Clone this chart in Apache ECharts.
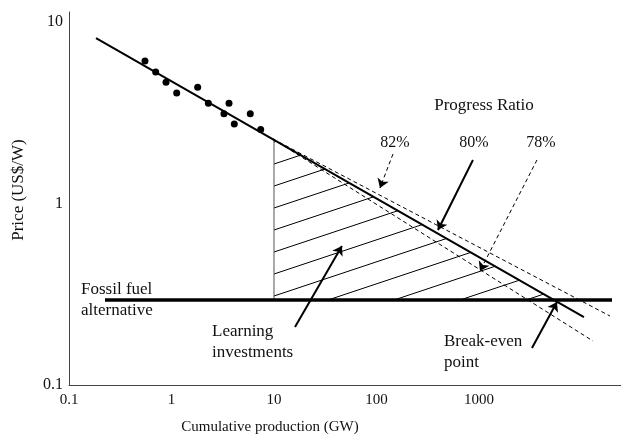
<!DOCTYPE html>
<html>
<head>
<meta charset="utf-8">
<title>Learning curve</title>
<script src="https://cdn.jsdelivr.net/npm/echarts@6/dist/echarts.min.js"></script>
<style>
  html, body { margin: 0; padding: 0; background: #fff; }
  #main { width: 621px; height: 434px; }
</style>
</head>
<body>
<div id="main"></div>
<script>
  // tick labels
  var xTicks = [0.1, 1, 10, 100, 1000];
  var yTicks = [0.1, 1, 10];

  // historic price points (GW, US$/W)
  var histX = [0.551, 0.701, 0.884, 1.124, 1.80, 2.29, 3.25, 3.64, 4.10, 5.87, 7.42];
  var histY = [6.11, 5.32, 4.66, 4.07, 4.38, 3.57, 3.13, 3.57, 2.75, 3.13, 2.56];

  // experience curves, read as two end points each
  var pr80X = [0.1834, 10570];
  var pr80Y = [8.18, 0.237];
  var pr82X = [9.77, 18970];
  var pr82Y = [2.27, 0.240];
  var pr78X = [9.77, 12940];
  var pr78Y = [2.27, 0.1748];

  // fossil fuel alternative
  var fossilX = [0.2245, 19850];
  var fossilY = [0.294, 0.294];

  // learning investments area (start at 10 GW, ends at break-even)
  var areaX = [10, 10, 5420];
  var areaY = [0.294, 2.25, 0.294];

  // arrows: [x from, y from, x to, y to]
  var arrow82 = [144.9, 1.877, 108.1, 1.219];
  var arrow80 = [873, 1.740, 398, 0.715];
  var arrow78 = [3681, 1.740, 1023, 0.425];
  var arrowLearn = [16.03, 0.2088, 46.0, 0.5836];
  var arrowBreak = [3289, 0.160, 5768, 0.2868];

  var serif = '"Liberation Serif", "DejaVu Serif", serif';

  function pairs(xs, ys) {
    return xs.map(function (x, i) { return [x, ys[i]]; });
  }
  function tickText(list) {
    return function (v) {
      for (var i = 0; i < list.length; i++) {
        if (Math.abs(Math.log10(v) - Math.log10(list[i])) < 1e-6) return String(list[i]);
      }
      return '';
    };
  }
  function arrow(a, dashed, width) {
    return {
      coords: [[a[0], a[1]], [a[2], a[3]]],
      lineStyle: { type: dashed ? [4, 3] : 'solid', width: width }
    };
  }
  function label(text, x, y, size, align) {
    return {
      type: 'text', x: x, y: y,
      style: {
        text: text, font: size + 'px ' + serif, fill: '#111',
        align: align, verticalAlign: 'middle', textAlign: align, textVerticalAlign: 'middle'
      }
    };
  }

  // hatch pattern, lines rising 1 in 3, 22px apart
  var hatch = document.createElement('canvas');
  hatch.width = 66;
  hatch.height = 22;
  var ctx = hatch.getContext('2d');
  ctx.strokeStyle = '#000';
  ctx.lineWidth = 1;
  ctx.beginPath();
  ctx.moveTo(0, 13.33); ctx.lineTo(66, -8.67);
  ctx.moveTo(0, 35.33); ctx.lineTo(66, 13.33);
  ctx.stroke();

  var chart = echarts.init(document.getElementById('main'));

  var yTitle = label('Price (US$/W)', 19, 190, 17, 'center');
  yTitle.rotation = Math.PI / 2;

  var option = {
    animation: false,
    backgroundColor: '#fff',
    grid: { left: 69, right: 0, top: 12, bottom: 49 },
    xAxis: {
      type: 'log',
      logBase: 10,
      min: 0.1,
      max: 24300,
      axisLine: { onZero: false, lineStyle: { color: '#444', width: 1 } },
      axisTick: { show: false },
      splitLine: { show: false },
      axisLabel: {
        customValues: xTicks,
        formatter: tickText(xTicks),
        color: '#111',
        fontFamily: serif,
        fontSize: 15,
        margin: 8
      }
    },
    yAxis: {
      type: 'log',
      logBase: 10,
      min: 0.1,
      max: 11.38,
      axisLine: { onZero: false, lineStyle: { color: '#444', width: 1 } },
      axisTick: { show: false },
      splitLine: { show: false },
      axisLabel: {
        customValues: yTicks,
        formatter: tickText(yTicks),
        color: '#111',
        fontFamily: serif,
        fontSize: 16,
        margin: 6
      }
    },
    series: [
      {
        // hatched learning investments
        type: 'custom',
        silent: true,
        z: 1,
        data: pairs(areaX, areaY),
        renderItem: function (params, api) {
          if (params.dataIndex > 0) return;
          var pts = areaX.map(function (x, i) { return api.coord([x, areaY[i]]); });
          return {
            type: 'polygon',
            shape: { points: pts },
            style: { fill: { image: hatch, repeat: 'repeat' }, stroke: null }
          };
        }
      },
      {
        // start of the hatched area
        type: 'line',
        z: 2,
        data: [[areaX[0], areaY[0]], [areaX[1], areaY[1]]],
        showSymbol: false,
        lineStyle: { color: '#555', width: 1 }
      },
      {
        name: '82%',
        type: 'line',
        z: 3,
        data: pairs(pr82X, pr82Y),
        showSymbol: false,
        lineStyle: { color: '#000', width: 1, type: [4, 3] }
      },
      {
        name: '78%',
        type: 'line',
        z: 3,
        data: pairs(pr78X, pr78Y),
        showSymbol: false,
        lineStyle: { color: '#000', width: 1, type: [4, 3] }
      },
      {
        name: '80%',
        type: 'line',
        z: 4,
        data: pairs(pr80X, pr80Y),
        showSymbol: false,
        lineStyle: { color: '#000', width: 2 }
      },
      {
        name: 'Fossil fuel',
        type: 'line',
        z: 4,
        data: pairs(fossilX, fossilY),
        showSymbol: false,
        lineStyle: { color: '#000', width: 3.5 }
      },
      {
        name: 'Price',
        type: 'scatter',
        z: 5,
        data: pairs(histX, histY),
        symbol: 'circle',
        symbolSize: 7,
        itemStyle: { color: '#000', opacity: 1 }
      },
      {
        // annotation arrows
        type: 'lines',
        coordinateSystem: 'cartesian2d',
        z: 6,
        symbol: ['none', 'arrow'],
        symbolSize: 9,
        lineStyle: { color: '#000', width: 2, curveness: 0, opacity: 1 },
        data: [
          arrow(arrow82, true, 1),
          arrow(arrow80, false, 2),
          arrow(arrow78, true, 1),
          arrow(arrowLearn, false, 2),
          arrow(arrowBreak, false, 2)
        ]
      }
    ],
    graphic: [
      yTitle,
      label('Cumulative production (GW)', 270, 427, 15, 'center'),
      label('Progress Ratio', 484, 106, 17, 'center'),
      label('82%', 395, 143, 16, 'center'),
      label('80%', 474, 143, 16, 'center'),
      label('78%', 541, 143, 16, 'center'),
      label('Fossil fuel', 81, 290, 17, 'left'),
      label('alternative', 81, 311, 17, 'left'),
      label('Learning', 212, 332, 17, 'left'),
      label('investments', 212, 353, 17, 'left'),
      label('Break-even', 444, 342, 17, 'left'),
      label('point', 444, 363, 17, 'left')
    ]
  };

  chart.setOption(option);
</script>
</body>
</html>
